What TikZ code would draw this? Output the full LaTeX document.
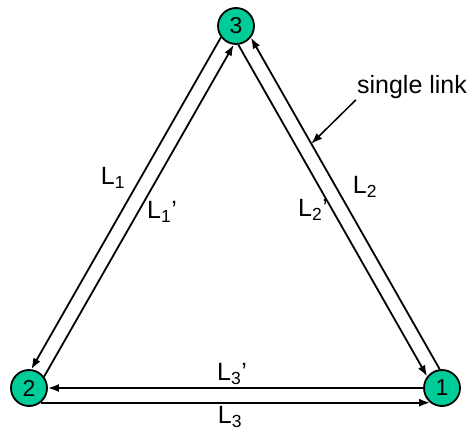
\documentclass[tikz,border=0pt]{standalone}
\usepackage{fontspec}
\setmainfont{Liberation Sans}
\definecolor{nodegreen}{RGB}{0,204,153}
\usetikzlibrary{arrows.meta, calc}

\begin{document}
\begin{tikzpicture}[x=1pt, y=1pt,
        lnk/.style={-{Latex[length=11pt, width=8pt]}, line width=1.8pt},
        router/.style={circle, draw, line width=1.8pt, fill=nodegreen,
                       minimum size=36pt, inner sep=0pt,
                       font=\fontsize{23}{26}\selectfont},
        lbl/.style={font=\fontsize{25}{28}\selectfont, inner sep=1pt}
      ]
        \useasboundingbox (0,0) rectangle (473,432);

        % Routers
        \node[router] (n3) at (236,406) {3};
        \node[router] (n2) at (29,44) {2};
        \node[router] (n1) at (442,44) {1};

        % Links between 2 and 3
        \draw[lnk] (n3.217) -- (n2.83);
        \draw[lnk] (n2.37) -- (n3.263);

        % Links between 1 and 3
        \draw[lnk] (n1.97) -- (n3.322);
        \draw[lnk] (n3.277) -- (n1.142);

        % Links between 1 and 2
        \draw[lnk] (n1.180) -- (n2.0);
        \draw[lnk] (n2.-51) -- (n1.-129);

        % Labels
        \node[lbl] (l1) at (113,254) {L\textsubscript{1}};
        \node[lbl] (l1p) at (162,220) {L\textsubscript{1}'};
        \node[lbl] (l2) at (365,245) {L\textsubscript{2}};
        \node[lbl] (l2p) at (313,222) {L\textsubscript{2}'};
        \node[lbl] (l3p) at (232,58) {L\textsubscript{3}'};
        \node[lbl] (l3) at (230,15) {L\textsubscript{3}};

        % Annotation
        \node[lbl] (single) at (412,345) {single link};
        \coordinate (tip) at ($(n1.97)!0.68!(n3.322)$);
        \draw[lnk, line width=1.5pt] (single.south west) -- (tip);
      \end{tikzpicture}
\end{document}
